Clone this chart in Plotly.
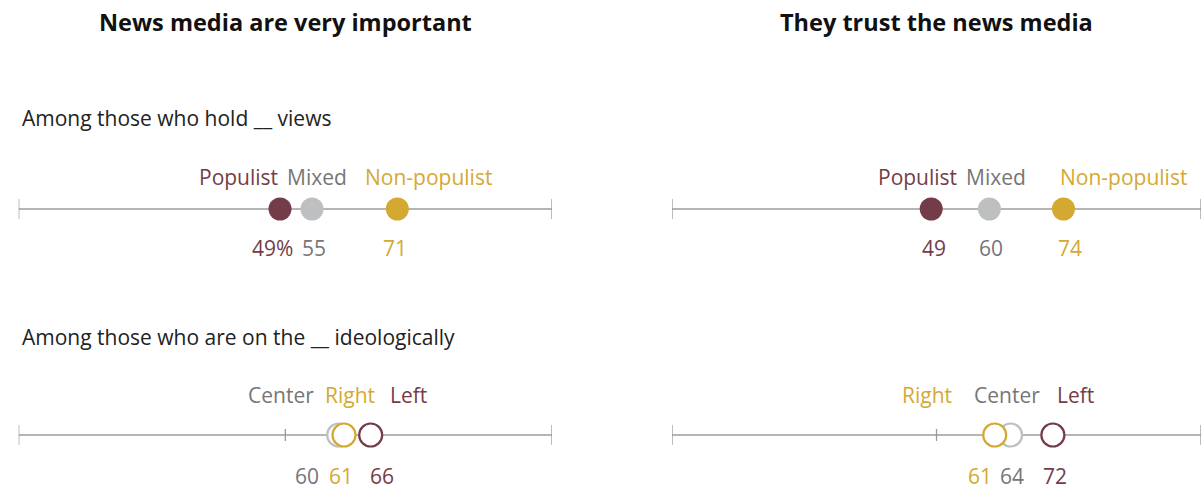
import plotly.graph_objects as go

# ---- data ----
panel_titles = ["News media are very important", "They trust the news media"]
row_titles = ["Among those who hold __ views", "Among those who are on the __ ideologically"]

pop_groups = ["Mixed", "Non-populist", "Populist"]
pop_important = [55, 71, 49]
pop_trust = [60, 74, 49]

ideo_groups = ["Center", "Right", "Left"]
ideo_important = [60, 61, 66]
ideo_trust = [64, 61, 72]

axis_ticks_top = [0, 100]
axis_ticks_bottom = [0, 50, 100]

# ---- styles ----
W, H = 1203, 491
MAROON = "#743C48"
GRAY_DOT = "#BEBFC1"
GRAY_TXT = "#767676"
GOLD = "#D4A932"
AXIS = "#B5B5B5"
FONT = "Open Sans"

dot_color = {"Populist": MAROON, "Mixed": GRAY_DOT, "Non-populist": GOLD,
             "Left": MAROON, "Center": GRAY_DOT, "Right": GOLD}
txt_color = {"Populist": MAROON, "Mixed": GRAY_TXT, "Non-populist": GOLD,
             "Left": MAROON, "Center": GRAY_TXT, "Right": GOLD}

# pixel layout
x_dom = [[18.7 / W, 552 / W], [672 / W, 1201 / W]]
row_y = [209, 435]  # axis y in pixels from top

# label shifts (pixels) per panel, row, group: (label xshift, value xshift)
label_shift = {
    (0, 0): {"Populist": (-42, -8), "Mixed": (5, 2), "Non-populist": (31, -2)},
    (1, 0): {"Populist": (-14, 3), "Mixed": (7, 2), "Non-populist": (60, 7)},
    (0, 1): {"Center": (-58, -32), "Right": (6, -3), "Left": (38, 11)},
    (1, 1): {"Right": (-68, -15), "Center": (-4, 1), "Left": (23, 2)},
}
label_dy = [32, 40]
value_dy = [39, 41]

fig = go.Figure()
layout = dict(width=W, height=H, margin=dict(l=0, r=0, t=0, b=0),
              plot_bgcolor="white", paper_bgcolor="white", showlegend=False,
              font=dict(family=FONT, color="#222"))
annotations = []
shapes = []

data = {
    (0, 0): (pop_groups, pop_important),
    (1, 0): (pop_groups, pop_trust),
    (0, 1): (ideo_groups, ideo_important),
    (1, 1): (ideo_groups, ideo_trust),
}

idx = 0
for r in range(2):
    for p in range(2):
        idx += 1
        xa = "xaxis" if idx == 1 else f"xaxis{idx}"
        ya = "yaxis" if idx == 1 else f"yaxis{idx}"
        xr = "x" if idx == 1 else f"x{idx}"
        yr = "y" if idx == 1 else f"y{idx}"
        yc = (H - row_y[r]) / H
        layout[xa] = dict(domain=x_dom[p], range=[0, 100], visible=False,
                          anchor=yr, fixedrange=True)
        layout[ya] = dict(domain=[yc - 30 / H, yc + 30 / H], range=[-1, 1],
                          visible=False, anchor=xr, fixedrange=True)
        # axis line
        ticks = axis_ticks_top if r == 0 else axis_ticks_bottom
        fig.add_trace(go.Scatter(x=[ticks[0], ticks[-1]], y=[0, 0], mode="lines",
                                 line=dict(color=AXIS, width=2), xaxis=xr, yaxis=yr,
                                 hoverinfo="skip", cliponaxis=False))
        for t in ticks:
            shapes.append(dict(type="line", xref=xr, yref=yr, x0=t, x1=t,
                               y0=-0.33 if t != 50 else -0.2, y1=0.33 if t != 50 else 0.2,
                               line=dict(color="#999", width=1.3)))
        groups, vals = data[(p, r)]
        for g, v in zip(groups, vals):
            if r == 0:
                mk = dict(size=23, color=dot_color[g], line=dict(width=0))
            else:
                mk = dict(size=23, color="white", line=dict(width=2.2, color=dot_color[g]))
            fig.add_trace(go.Scatter(x=[v], y=[0], mode="markers", marker=mk,
                                     xaxis=xr, yaxis=yr, name=g))
            lx, vx = label_shift[(p, r)][g]
            annotations.append(dict(x=v, y=0, xref=xr, yref=yr, text=g, showarrow=False,
                                    xshift=lx, yshift=label_dy[r],
                                    font=dict(size=21, color=txt_color[g], family=FONT)))
            vt = f"{v}%" if (p == 0 and r == 0 and g == "Populist") else f"{v}"
            annotations.append(dict(x=v, y=0, xref=xr, yref=yr, text=vt, showarrow=False,
                                    xshift=vx, yshift=-value_dy[r], borderpad=0,
                                    font=dict(size=21, color=txt_color[g], family=FONT)))

# panel titles
for p in range(2):
    cx = (x_dom[p][0] + x_dom[p][1]) / 2
    annotations.append(dict(x=cx, y=(H - 22) / H, xref="paper", yref="paper",
                            text=panel_titles[p], showarrow=False,
                            xanchor="center", yanchor="middle",
                            font=dict(size=23.5, color="#111", family=FONT, weight=700)))
# row titles
for r, yy in enumerate([118, 337]):
    annotations.append(dict(x=20 / W, y=(H - yy) / H, xref="paper", yref="paper",
                            text=row_titles[r], showarrow=False,
                            xanchor="left", yanchor="middle",
                            font=dict(size=21, color="#222", family=FONT)))

layout["annotations"] = annotations
layout["shapes"] = shapes
fig.update_layout(**layout)
fig.write_html("out.html", config={"displayModeBar": False},
               post_script="document.body.style.margin='0';")
